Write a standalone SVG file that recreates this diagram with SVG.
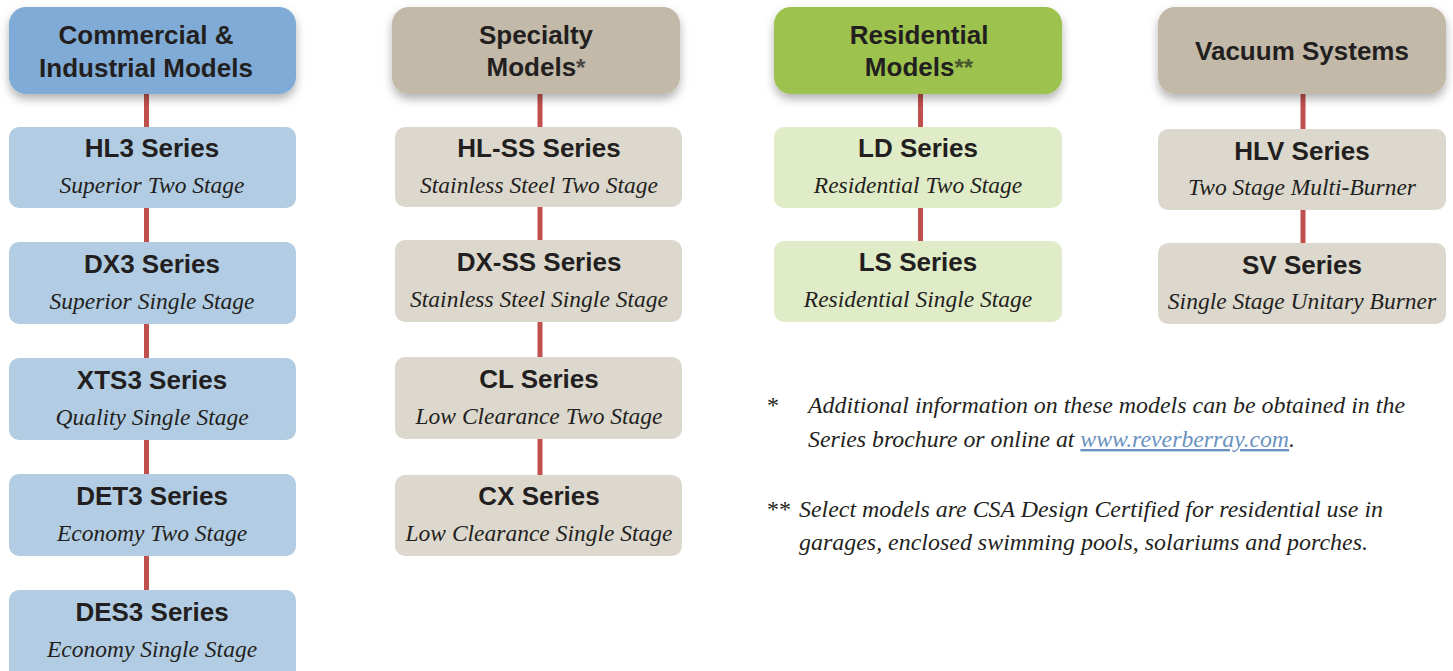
<svg xmlns="http://www.w3.org/2000/svg" width="1453" height="671" viewBox="0 0 1453 671">
<defs>
<filter id="sh" x="-10%" y="-20%" width="120%" height="160%">
<feDropShadow dx="0" dy="5" stdDeviation="5" flood-color="#000" flood-opacity="0.3"/>
</filter>
<style>
.hd{font-family:"Liberation Sans",Arial,sans-serif;font-weight:bold;font-size:26px;fill:#231f20;text-anchor:middle}
.ast{font-weight:bold;font-size:24px;fill:#4a4845}
.ast2{font-weight:bold;font-size:24px;fill:#46562d}
.ti{font-family:"Liberation Sans",Arial,sans-serif;font-weight:bold;font-size:26px;fill:#231f20;text-anchor:middle}
.su{font-family:"Liberation Serif","Times New Roman",serif;font-style:italic;font-size:23.5px;fill:#231f20;text-anchor:middle}
.fn{font-family:"Liberation Serif","Times New Roman",serif;font-style:italic;font-size:24px;fill:#231f20}
.fs{font-family:"Liberation Serif","Times New Roman",serif;font-size:24px;fill:#231f20}
.lnk{fill:#6b93bf;text-decoration:underline}
.con line{stroke:#c0504d;stroke-width:5}
.blue{fill:#b2cde3}.tan{fill:#dcd8cd}.green{fill:#e0ebc8}
</style>
</defs>
<rect width="1453" height="671" fill="#fff"/>
<g id="connectors" class="con">
<line x1="146.5" y1="94" x2="146.5" y2="127"/>
<line x1="146.5" y1="208" x2="146.5" y2="242"/>
<line x1="146.5" y1="324" x2="146.5" y2="358"/>
<line x1="146.5" y1="440" x2="146.5" y2="474"/>
<line x1="146.5" y1="556" x2="146.5" y2="590"/>
<line x1="540" y1="94" x2="540" y2="127"/>
<line x1="540" y1="207" x2="540" y2="240"/>
<line x1="540" y1="322" x2="540" y2="357"/>
<line x1="540" y1="439" x2="540" y2="475"/>
<line x1="920.5" y1="94" x2="920.5" y2="127"/>
<line x1="920.5" y1="208" x2="920.5" y2="241"/>
<line x1="1303" y1="94" x2="1303" y2="129"/>
<line x1="1303" y1="210" x2="1303" y2="243"/>
</g>
<g id="h-commercial">
<rect x="9" y="7" width="287" height="87" rx="17" fill="#80abd6" filter="url(#sh)"/>
<text class="hd" x="146" y="44">Commercial &amp;</text>
<text class="hd" x="146" y="77">Industrial Models</text>
</g>
<g id="h-specialty">
<rect x="392" y="7" width="288" height="87" rx="17" fill="#c2b9a8" filter="url(#sh)"/>
<text class="hd" x="536" y="44">Specialty</text>
<text class="hd" x="536" y="76">Models<tspan class="ast">*</tspan></text>
</g>
<g id="h-residential">
<rect x="774" y="7" width="288" height="87" rx="17" fill="#9dc24e" filter="url(#sh)"/>
<text class="hd" x="919" y="44">Residential</text>
<text class="hd" x="919" y="76">Models<tspan class="ast2">**</tspan></text>
</g>
<g id="h-vacuum">
<rect x="1158" y="7" width="288" height="87" rx="17" fill="#c2b9a8" filter="url(#sh)"/>
<text class="hd" x="1302" y="60">Vacuum Systems</text>
</g>
<g id="n-hl3"><rect class="blue" x="9" y="127" width="287" height="81" rx="10"/><text class="ti" x="152" y="157">HL3 Series</text><text class="su" x="152" y="193">Superior Two Stage</text></g>
<g id="n-dx3"><rect class="blue" x="9" y="242" width="287" height="82" rx="10"/><text class="ti" x="152" y="273">DX3 Series</text><text class="su" x="152" y="309">Superior Single Stage</text></g>
<g id="n-xts3"><rect class="blue" x="9" y="358" width="287" height="82" rx="10"/><text class="ti" x="152" y="389">XTS3 Series</text><text class="su" x="152" y="425">Quality Single Stage</text></g>
<g id="n-det3"><rect class="blue" x="9" y="474" width="287" height="82" rx="10"/><text class="ti" x="152" y="505">DET3 Series</text><text class="su" x="152" y="541">Economy Two Stage</text></g>
<g id="n-des3"><rect class="blue" x="9" y="590" width="287" height="90" rx="10"/><text class="ti" x="152" y="621">DES3 Series</text><text class="su" x="152" y="657">Economy Single Stage</text></g>
<g id="n-hlss"><rect class="tan" x="395" y="127" width="287" height="80" rx="10"/><text class="ti" x="539" y="157">HL-SS Series</text><text class="su" x="539" y="193">Stainless Steel Two Stage</text></g>
<g id="n-dxss"><rect class="tan" x="395" y="240" width="287" height="82" rx="10"/><text class="ti" x="539" y="271">DX-SS Series</text><text class="su" x="539" y="307">Stainless Steel Single Stage</text></g>
<g id="n-cl"><rect class="tan" x="395" y="357" width="287" height="82" rx="10"/><text class="ti" x="539" y="388">CL Series</text><text class="su" x="539" y="424">Low Clearance Two Stage</text></g>
<g id="n-cx"><rect class="tan" x="395" y="475" width="287" height="81" rx="10"/><text class="ti" x="539" y="505">CX Series</text><text class="su" x="539" y="541">Low Clearance Single Stage</text></g>
<g id="n-ld"><rect class="green" x="774" y="127" width="288" height="81" rx="10"/><text class="ti" x="918" y="157">LD Series</text><text class="su" x="918" y="193">Residential Two Stage</text></g>
<g id="n-ls"><rect class="green" x="774" y="241" width="288" height="81" rx="10"/><text class="ti" x="918" y="271">LS Series</text><text class="su" x="918" y="307">Residential Single Stage</text></g>
<g id="n-hlv"><rect class="tan" x="1158" y="129" width="288" height="81" rx="10"/><text class="ti" x="1302" y="160">HLV Series</text><text class="su" x="1302" y="195">Two Stage Multi-Burner</text></g>
<g id="n-sv"><rect class="tan" x="1158" y="243" width="288" height="81" rx="10"/><text class="ti" x="1302" y="274">SV Series</text><text class="su" x="1302" y="309">Single Stage Unitary Burner</text></g>
<g id="footnotes">
<text class="fs" x="767" y="413">*</text>
<text class="fn" x="808" y="413" textLength="597" lengthAdjust="spacingAndGlyphs">Additional information on these models can be obtained in the</text>
<text class="fn" x="808" y="447" textLength="487" lengthAdjust="spacingAndGlyphs">Series brochure or online at <tspan class="lnk">www.reverberray.com</tspan>.</text>
<text class="fs" x="767" y="517">**</text>
<text class="fn" x="799" y="517" textLength="584" lengthAdjust="spacingAndGlyphs">Select models are CSA Design Certified for residential use in</text>
<text class="fn" x="799" y="550" textLength="569" lengthAdjust="spacingAndGlyphs">garages, enclosed swimming pools, solariums and porches.</text>
</g>
</svg>
